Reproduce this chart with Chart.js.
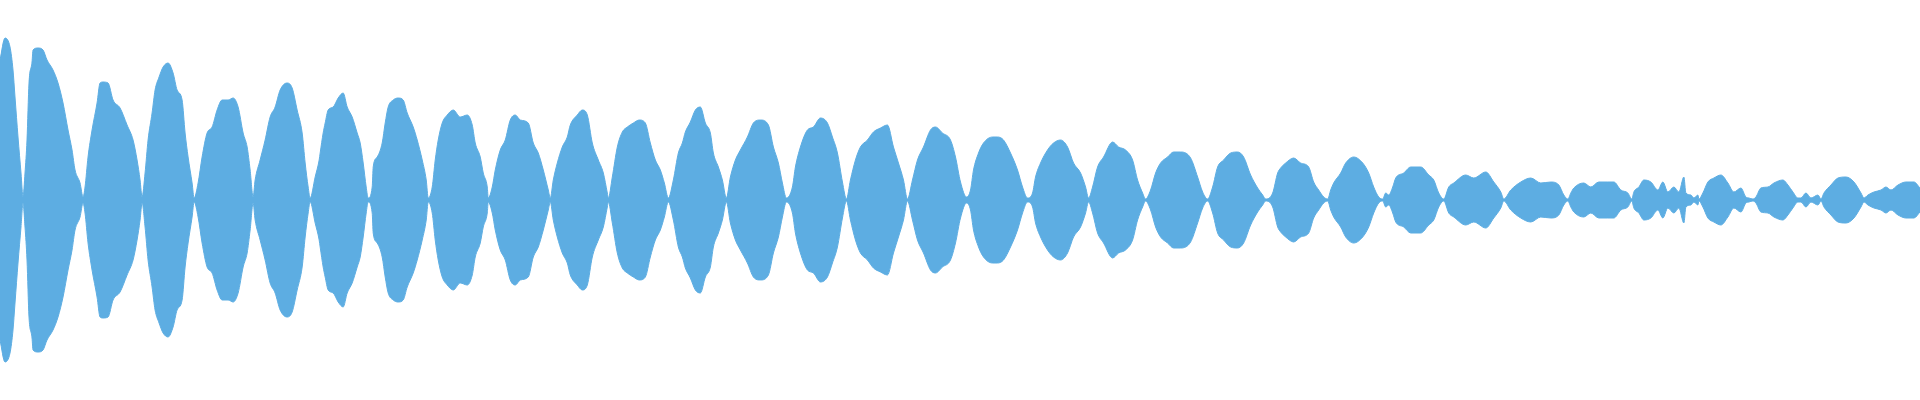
<!DOCTYPE html>
<html>
<head>
<meta charset="utf-8">
<script src="https://cdn.jsdelivr.net/npm/chart.js@4"></script>
<style>
  html, body { margin: 0; padding: 0; background: #fff; }
  #wrap { width: 1920px; height: 400px; position: relative; }
</style>
</head>
<body>
<div id="wrap"><canvas id="wave"></canvas></div>
<script>
// sample positions (x) and peak amplitude of the envelope at each one
const sampleX = [
  0, 5, 10, 13, 15, 18, 21, 23,
  25, 27, 29, 32, 33, 38, 43, 47, 53, 58, 63, 68, 72, 75, 80, 83,
  85, 88, 92, 97, 100, 103, 108, 113, 120, 127, 133, 137, 140, 142,
  145, 148, 152, 155, 159, 163, 168, 173, 177, 182, 185, 188, 192, 194,
  198, 202, 207, 212, 217, 222, 228, 233, 238, 243, 247, 250, 253,
  255, 260, 265, 270, 275, 280, 287, 292, 297, 302, 305, 308, 310,
  315, 319, 320, 323, 325, 328, 333, 338, 343, 347, 352, 357, 360, 363, 366, 368,
  372, 373, 377, 382, 385, 388, 393, 398, 403, 407, 413, 417, 422, 426, 428,
  432, 435, 438, 442, 447, 453, 460, 467, 472, 475, 480, 483, 487, 488,
  492, 495, 500, 505, 510, 515, 520, 528, 533, 538, 543, 548, 550,
  553, 557, 562, 567, 570, 577, 582, 587, 592, 598, 603, 607, 608,
  612, 617, 622, 627, 633, 639, 645, 650, 655, 660, 664, 668,
  673, 678, 682, 685, 690, 695, 700, 705, 710, 713, 718, 722, 726,
  730, 735, 740, 747, 753, 760, 768, 773, 778, 782, 786,
  792, 795, 800, 807, 813, 820, 827, 832, 837, 842, 846,
  850, 855, 860, 867, 873, 880, 887, 893, 898, 903, 907,
  912, 917, 923, 930, 935, 942, 950, 955, 960, 966,
  970, 973, 978, 983, 992, 997, 1003, 1010, 1017, 1022, 1027,
  1032, 1035, 1040, 1047, 1053, 1060, 1067, 1073, 1080, 1085, 1088,
  1092, 1097, 1103, 1112, 1118, 1125, 1132, 1137, 1142, 1145,
  1150, 1155, 1160, 1167, 1173, 1180, 1190, 1197, 1202, 1207,
  1212, 1217, 1223, 1230, 1237, 1243, 1250, 1257, 1262, 1265,
  1272, 1277, 1280, 1285, 1293, 1300, 1308, 1313, 1318, 1323, 1327,
  1330, 1333, 1340, 1345, 1353, 1362, 1368, 1373, 1378, 1382,
  1385, 1388, 1392, 1395, 1403, 1410, 1420, 1428, 1433, 1438, 1443,
  1448, 1453, 1465, 1473, 1485, 1493, 1500, 1503,
  1510, 1520, 1530, 1540, 1550, 1558, 1563, 1567,
  1570, 1573, 1583, 1590, 1598, 1607, 1613, 1620, 1627, 1631,
  1633, 1638, 1643, 1650, 1657, 1662, 1667, 1673, 1678, 1683, 1685, 1690, 1693, 1697, 1698,
  1702, 1707, 1713, 1720, 1727, 1733, 1740, 1745, 1748, 1752,
  1755, 1760, 1767, 1773, 1782, 1787, 1792, 1797,
  1800, 1805, 1810, 1817, 1820,
  1823, 1830, 1837, 1845, 1853, 1860, 1863,
  1867, 1873, 1880, 1885, 1890, 1897, 1905, 1913, 1919
];

const amplitude = [
  140, 162, 153, 130, 103, 63, 27, 3,
  27, 60, 117, 138, 150, 152, 150, 140, 130, 117, 97, 70, 50, 30, 17, 3,
  13, 43, 70, 97, 117, 118, 117, 100, 92, 75, 60, 40, 20, 3,
  27, 60, 87, 110, 123, 133, 137, 127, 110, 100, 67, 43, 17, 2,
  17, 43, 67, 73, 90, 100, 100, 102, 93, 67, 53, 30, 3,
  20, 40, 60, 83, 93, 110, 117, 112, 90, 67, 37, 13, 2,
  23, 40, 47, 67, 77, 90, 93, 102, 107, 93, 83, 67, 57, 37, 13, 2,
  13, 33, 43, 57, 77, 93, 100, 102, 100, 87, 73, 60, 40, 20, 2,
  13, 40, 60, 77, 85, 90, 83, 85, 75, 57, 43, 27, 13, 2,
  13, 30, 50, 60, 80, 85, 80, 77, 57, 47, 30, 10, 2,
  20, 37, 53, 63, 75, 85, 90, 85, 57, 40, 27, 7, 2,
  23, 53, 68, 73, 77, 80, 77, 57, 40, 30, 17, 2,
  20, 47, 57, 68, 78, 90, 93, 77, 67, 47, 33, 20, 2,
  23, 40, 50, 63, 77, 80, 75, 53, 37, 17, 2,
  13, 33, 53, 70, 73, 82, 77, 63, 47, 18, 1,
  20, 40, 53, 60, 68, 72, 75, 53, 37, 20, 1,
  20, 40, 53, 70, 73, 67, 60, 43, 18, 3,
  10, 30, 47, 57, 63, 63, 60, 47, 30, 13, 2,
  7, 23, 37, 50, 57, 60, 53, 37, 27, 13, 2,
  13, 33, 43, 58, 53, 50, 40, 20, 7, 1,
  10, 27, 37, 43, 48, 48, 42, 23, 8, 1,
  13, 33, 40, 47, 48, 43, 25, 12, 5, 1,
  7, 27, 32, 37, 42, 37, 33, 18, 10, 3, 1,
  10, 17, 27, 37, 43, 37, 27, 13, 3, 1,
  7, 5, 13, 22, 27, 33, 33, 25, 20, 7, 1,
  13, 17, 25, 22, 28, 18, 8, 1,
  10, 18, 22, 17, 18, 15, 5, 1,
  7, 12, 17, 13, 18, 18, 18, 10, 7, 1,
  8, 13, 20, 18, 10, 18, 8, 13, 8, 23, 7, 5, 2, 5, 1,
  7, 18, 22, 25, 17, 8, 12, 3, 2, 1,
  3, 12, 13, 17, 20, 15, 8, 2,
  2, 7, 2, 5, 1,
  7, 15, 22, 23, 18, 7, 2,
  5, 8, 10, 13, 10, 15, 18, 18, 12
];

const waveColor = '#5dade2';

// mirrored envelope: upper half and lower half of the waveform
const upper = sampleX.map((x, i) => ({ x: x, y: amplitude[i] }));
const lower = sampleX.map((x, i) => ({ x: x, y: -amplitude[i] }));

const waveConfig = {
  type: 'line',
  data: {
    datasets: [
      {
        data: upper,
        borderColor: waveColor,
        backgroundColor: waveColor,
        borderWidth: 1,
        pointRadius: 0,
        cubicInterpolationMode: 'monotone',
        fill: 'origin',
      },
      {
        data: lower,
        borderColor: waveColor,
        backgroundColor: waveColor,
        borderWidth: 1,
        pointRadius: 0,
        cubicInterpolationMode: 'monotone',
        fill: 'origin',
      },
    ],
  },
  options: {
    responsive: true,
    maintainAspectRatio: false,
    animation: false,
    layout: { padding: 0 },
    plugins: {
      legend: { display: false },
      tooltip: { enabled: false },
    },
    scales: {
      x: { type: 'linear', min: 0, max: 1919, display: false },
      y: { min: -200, max: 200, display: false },
    },
  },
}

const waveCtx = document.getElementById('wave')
window.myWave = new Chart(waveCtx, waveConfig)
</script>
</body>
</html>
